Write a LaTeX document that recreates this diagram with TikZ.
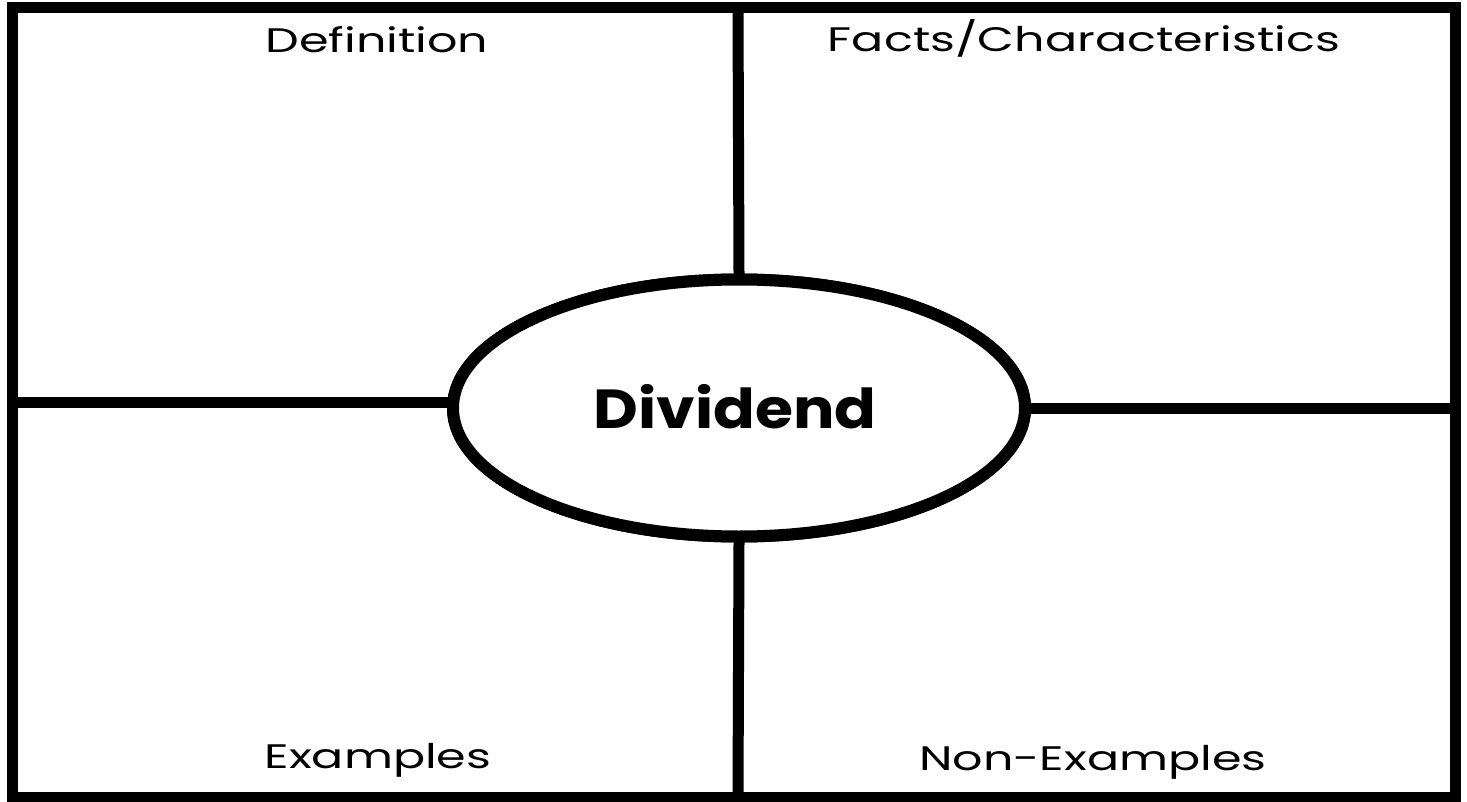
\documentclass[tikz,border=0pt]{standalone}
\usepackage{fontspec}
\setmainfont{Poppins}
\newfontfamily\widefont[FakeStretch=1.4]{Poppins}
\newfontfamily\widebold[FakeStretch=1.12]{Poppins Bold}
\usetikzlibrary{shapes.geometric}
\begin{document}
\begin{tikzpicture}[x=1pt,y=-1pt,
  thick line/.style={line width=11pt,line cap=rect},
  label/.style={anchor=base,inner sep=0pt,font=\widefont\fontsize{34}{40}\selectfont},
  center/.style={ellipse,draw,line width=12pt,minimum width=572pt,minimum height=257pt,inner sep=0pt,fill=white}]
\useasboundingbox (0,0) rectangle (1467,802);
\fill[white] (0,0) rectangle (1467,802);
\coordinate (tl) at (12.5,8);
\coordinate (br) at (1455,797);
\coordinate (top) at (738,8);
\coordinate (bot) at (738,797);
\coordinate (lft) at (12.5,402);
\coordinate (rgt) at (1455,408);
\node[center] (ov) at (739,408) {};
\draw[thick line] (top) -- (ov.north);
\draw[thick line] (ov.south) -- (bot);
\draw[thick line] (lft) -- (ov.west |- lft);
\draw[thick line] (ov.east) -- (rgt);
\node[center] (ov2) at (739,408) {};
\node[anchor=base,inner sep=0pt,font=\widebold\fontsize{55}{62}\selectfont] (t) at (735,428) {Dividend};
\draw[thick line,line join=miter] (tl) rectangle (br);
\node[label] (d) at (377,53) {Definition};
\node[label] (f) at (1084,52) {Facts/Characteristics};
\node[label] (e) at (378,768) {Examples};
\node[label] (n) at (1093,770) {Non-Examples};
\end{tikzpicture}
\end{document}
